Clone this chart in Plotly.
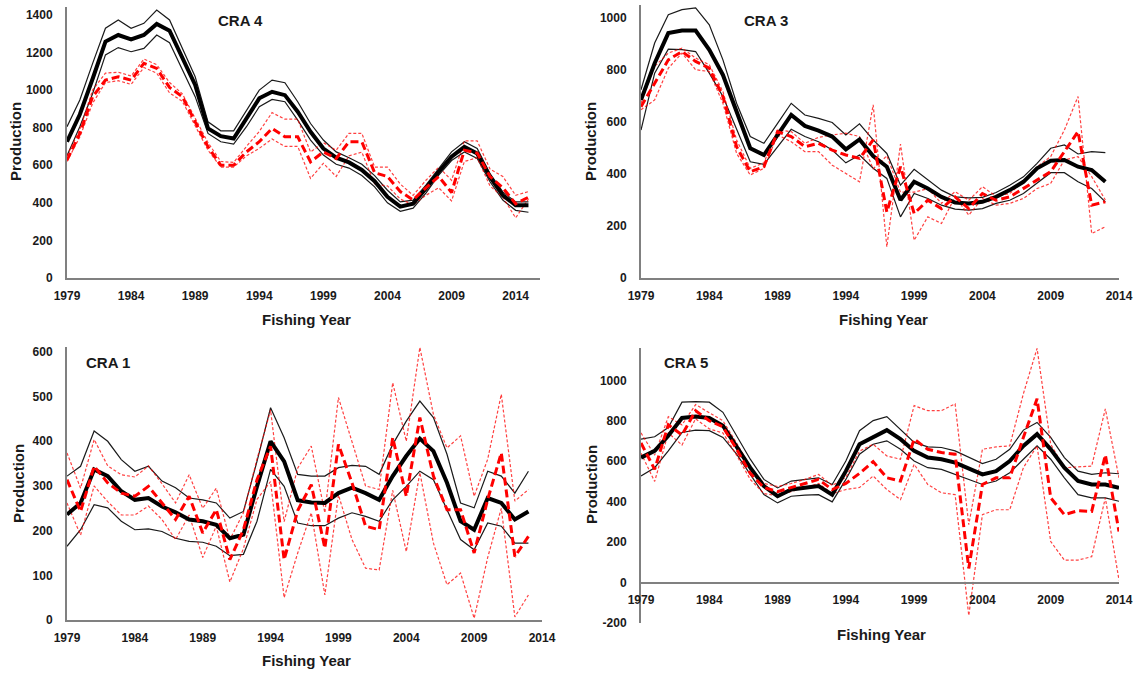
import plotly.graph_objects as go

# ---------------- DATA ----------------
years_cra4 = list(range(1979, 2016))
years_cra3 = list(range(1979, 2014))
years_cra1 = list(range(1979, 2014))
years_cra5 = list(range(1979, 2015))

x_tick_years = [1979, 1984, 1989, 1994, 1999, 2004, 2009, 2014]

# CRA 4
cra4_black_med = [725, 870, 1060, 1258, 1293, 1270, 1293, 1352, 1316, 1169, 1027, 796, 755, 742, 849, 956, 991, 973, 885, 778,
                  689, 640, 615, 575, 515, 432, 380, 396, 476, 565, 645, 698, 662, 538, 440, 387, 387]
cra4_black_hi = [805, 947, 1142, 1329, 1373, 1329, 1355, 1426, 1373, 1222, 1071, 831, 783, 783, 893, 1000, 1053, 1039, 938, 822,
                 734, 671, 640, 605, 545, 467, 405, 414, 494, 583, 671, 725, 689, 556, 458, 405, 405]
cra4_black_lo = [650, 805, 982, 1187, 1226, 1204, 1222, 1293, 1252, 1107, 965, 769, 725, 712, 805, 911, 950, 938, 840, 734,
                 654, 605, 585, 545, 485, 400, 355, 372, 452, 547, 625, 671, 636, 512, 414, 360, 350]
cra4_red_med = [627, 769, 965, 1053, 1071, 1053, 1142, 1115, 1014, 965, 831, 698, 600, 600, 671, 725, 796, 751, 751, 618,
                671, 636, 725, 725, 560, 540, 460, 415, 480, 540, 455, 680, 665, 540, 480, 395, 430]
cra4_red_a = [650, 790, 1000, 1090, 1095, 1075, 1165, 1135, 1040, 980, 850, 720, 620, 615, 700, 780, 880, 845, 845, 670,
              720, 680, 770, 770, 590, 590, 500, 440, 520, 590, 520, 730, 730, 580, 540, 440, 460]
cra4_red_b = [620, 750, 930, 1040, 1050, 1030, 1120, 1090, 985, 940, 810, 680, 590, 590, 650, 690, 740, 700, 700, 530,
              610, 540, 650, 670, 500, 490, 420, 390, 440, 480, 410, 620, 640, 490, 430, 320, 420]

# CRA 3
cra3_black_med = [685, 826, 942, 952, 952, 878, 781, 640, 499, 473, 550, 627, 585, 567, 544, 495, 533, 469, 428, 300,
                  370, 344, 312, 290, 287, 293, 312, 338, 370, 422, 451, 454, 428, 415, 370]
cra3_black_hi = [724, 904, 1013, 1032, 1039, 974, 839, 672, 544, 518, 595, 672, 627, 614, 598, 550, 593, 531, 479, 357,
                 418, 377, 338, 312, 308, 310, 329, 357, 389, 441, 499, 512, 477, 486, 482]
cra3_black_lo = [569, 788, 880, 878, 871, 788, 698, 569, 447, 437, 505, 572, 544, 524, 492, 443, 473, 422, 383, 235,
                 325, 306, 280, 265, 261, 267, 287, 299, 325, 364, 405, 405, 370, 344, 293]
cra3_red_med = [659, 749, 839, 871, 833, 807, 698, 505, 409, 428, 563, 544, 505, 518, 492, 473, 460, 531, 254, 428,
                248, 299, 267, 312, 267, 325, 299, 312, 344, 377, 409, 486, 563, 280, 293]
cra3_red_a = [672, 814, 865, 884, 846, 820, 717, 531, 422, 443, 569, 563, 518, 541, 550, 557, 544, 420, 470, 330,
              330, 344, 287, 332, 299, 351, 315, 325, 370, 428, 467, 569, 698, 171, 197]
cra3_red_b = [647, 685, 807, 865, 801, 794, 672, 479, 396, 422, 550, 524, 486, 486, 434, 402, 370, 666, 120, 515,
              145, 235, 210, 312, 242, 306, 280, 287, 306, 344, 364, 454, 467, 390, 300]

# CRA 1
cra1_black_med = [236, 262, 337, 322, 288, 269, 273, 254, 241, 225, 221, 213, 183, 191, 299, 400, 355, 268, 263, 262,
                  284, 296, 284, 269, 322, 367, 406, 378, 307, 221, 202, 273, 262, 225, 243]
cra1_black_hi = [322, 344, 423, 400, 359, 333, 344, 311, 296, 273, 269, 262, 228, 243, 355, 475, 408, 326, 322, 322,
                 341, 346, 344, 326, 393, 445, 490, 453, 371, 262, 251, 333, 322, 284, 333]
cra1_black_lo = [165, 202, 258, 251, 221, 202, 204, 198, 183, 176, 174, 165, 144, 147, 221, 337, 299, 217, 211, 211,
                 228, 240, 232, 221, 269, 299, 333, 314, 247, 180, 157, 217, 210, 172, 172]
cra1_red_med = [314, 243, 344, 307, 284, 277, 299, 262, 225, 277, 195, 247, 135, 202, 314, 389, 135, 245, 303, 161,
                393, 307, 210, 202, 408, 277, 453, 322, 247, 247, 150, 270, 374, 142, 187]
cra1_red_a = [374, 295, 404, 345, 325, 320, 345, 305, 262, 325, 250, 295, 180, 240, 360, 470, 220, 340, 389, 240,
              498, 400, 300, 292, 531, 400, 610, 460, 385, 412, 277, 360, 505, 266, 292]
cra1_red_b = [262, 190, 300, 265, 235, 235, 255, 225, 180, 235, 140, 210, 85, 160, 270, 310, 50, 150, 240, 56,
              280, 180, 116, 112, 290, 153, 330, 172, 79, 105, 4, 140, 250, 7, 56]

# CRA 5
cra5_black_med = [618, 651, 726, 814, 821, 814, 776, 676, 568, 477, 427, 460, 468, 477, 435, 551, 684, 721, 754, 709,
                  651, 618, 610, 593, 565, 535, 551, 601, 676, 734, 659, 568, 502, 485, 485, 468]
cra5_black_hi = [709, 721, 767, 892, 895, 892, 842, 726, 610, 510, 468, 502, 510, 518, 485, 601, 751, 801, 821, 759,
                 693, 671, 668, 651, 621, 588, 610, 659, 754, 792, 718, 618, 551, 535, 543, 538]
cra5_black_lo = [527, 568, 651, 742, 754, 751, 718, 635, 535, 435, 394, 427, 432, 435, 399, 510, 635, 684, 701, 659,
                 601, 568, 560, 535, 510, 485, 502, 543, 610, 676, 610, 518, 435, 419, 419, 402]
cra5_red_med = [690, 560, 780, 730, 850, 800, 770, 660, 540, 470, 450, 470, 490, 510, 460, 490, 540, 598, 518, 502,
                709, 659, 643, 635, 70, 485, 518, 518, 718, 909, 419, 336, 355, 352, 631, 252]
cra5_red_a = [740, 630, 820, 780, 880, 840, 800, 690, 570, 490, 475, 490, 510, 535, 480, 520, 650, 684, 626, 610,
              875, 850, 850, 884, 286, 659, 671, 676, 934, 1158, 684, 568, 571, 576, 859, 518]
cra5_red_b = [640, 500, 740, 680, 810, 760, 740, 630, 510, 440, 430, 450, 470, 490, 440, 460, 470, 527, 460, 410,
              585, 485, 444, 435, -163, 336, 360, 360, 568, 676, 203, 111, 111, 128, 419, 12]

panel_titles = ["CRA 4", "CRA 3", "CRA 1", "CRA 5"]

# ---------------- FIGURE ----------------
W, H = 1142, 675
fig = go.Figure()

panels = [
    (years_cra4, cra4_black_med, cra4_black_hi, cra4_black_lo, cra4_red_med, cra4_red_a, cra4_red_b),
    (years_cra3, cra3_black_med, cra3_black_hi, cra3_black_lo, cra3_red_med, cra3_red_a, cra3_red_b),
    (years_cra1, cra1_black_med, cra1_black_hi, cra1_black_lo, cra1_red_med, cra1_red_a, cra1_red_b),
    (years_cra5, cra5_black_med, cra5_black_hi, cra5_black_lo, cra5_red_med, cra5_red_a, cra5_red_b),
]

RED = "#ff0000"
for i, (yrs, bm, bh, bl, rm, ra, rb) in enumerate(panels):
    xa = "x" if i == 0 else f"x{i+1}"
    ya = "y" if i == 0 else f"y{i+1}"
    for vals in (bh, bl):
        fig.add_trace(go.Scatter(x=yrs, y=vals, mode="lines", xaxis=xa, yaxis=ya,
                                 line=dict(color="#1a1a1a", width=1.2), showlegend=False, hoverinfo="skip"))
    for vals in (ra, rb):
        fig.add_trace(go.Scatter(x=yrs, y=vals, mode="lines", xaxis=xa, yaxis=ya,
                                 line=dict(color="rgba(255,0,0,0.75)", width=1.2, dash="3px,2px"),
                                 showlegend=False, hoverinfo="skip"))
    fig.add_trace(go.Scatter(x=yrs, y=bm, mode="lines", xaxis=xa, yaxis=ya,
                             line=dict(color="#000000", width=4), showlegend=False, hoverinfo="skip"))
    fig.add_trace(go.Scatter(x=yrs, y=rm, mode="lines", xaxis=xa, yaxis=ya,
                             line=dict(color=RED, width=3, dash="8px,4px"), showlegend=False, hoverinfo="skip"))


def px_x(p):
    return p / W


def px_y(p):
    return 1 - p / H


tickfont = dict(family="Liberation Sans, Arial, sans-serif", size=12, color="#1a1a1a", weight="bold")
axis_common = dict(showgrid=False, zeroline=False, showline=True, linecolor="#808080", linewidth=2,
                   ticks="", tickfont=tickfont, automargin=False)

# panel geometry (pixels)
geo = [
    dict(x0=67, x1=540, y_bot=278, y_top=7, xr=[1979, 2015.9], yr=[0, 1442], yt=list(range(0, 1401, 200))),
    dict(x0=641, x1=1119, y_bot=278, y_top=5, xr=[1979, 2014], yr=[0, 1050], yt=list(range(0, 1001, 200))),
    dict(x0=67, x1=542, y_bot=620, y_top=347, xr=[1979, 2014], yr=[0, 611], yt=list(range(0, 601, 100))),
    dict(x0=641, x1=1119, y_bot=623, y_top=348, xr=[1979, 2014], yr=[-200, 1160], yt=list(range(-200, 1001, 200))),
]

layout = {}
for i, g in enumerate(geo):
    xk = "xaxis" if i == 0 else f"xaxis{i+1}"
    yk = "yaxis" if i == 0 else f"yaxis{i+1}"
    xname = "x" if i == 0 else f"x{i+1}"
    yname = "y" if i == 0 else f"y{i+1}"
    ydom = [px_y(g["y_bot"]), px_y(g["y_top"])]
    xdict = dict(axis_common, domain=[px_x(g["x0"]), px_x(g["x1"])], range=g["xr"],
                 tickvals=x_tick_years, ticktext=[str(v) for v in x_tick_years], ticklabelstandoff=6)
    if i == 3:
        frac0 = (0 - g["yr"][0]) / (g["yr"][1] - g["yr"][0])
        xdict.update(anchor="free", position=ydom[0] + frac0 * (ydom[1] - ydom[0]))
    else:
        xdict.update(anchor=yname)
    layout[xk] = xdict
    layout[yk] = dict(axis_common, domain=ydom, range=g["yr"], anchor=xname,
                      tickvals=g["yt"], ticktext=[str(v) for v in g["yt"]], ticklabelstandoff=10)

fig.update_layout(**layout)

title_font = dict(family="Liberation Sans, Arial, sans-serif", size=15, color="#1a1a1a", weight="bold")
annotations = []
# panel titles
for txt, (cx, cy) in zip(panel_titles, [(240, 20), (766, 20), (108, 362), (686, 362)]):
    annotations.append(dict(text=txt, x=px_x(cx), y=px_y(cy), xref="paper", yref="paper",
                            showarrow=False, xanchor="center", yanchor="middle", font=title_font))
# axis titles
for (cx, cy) in [(306, 319), (883, 319), (306, 660), (881, 634)]:
    annotations.append(dict(text="Fishing Year", x=px_x(cx), y=px_y(cy), xref="paper", yref="paper",
                            showarrow=False, xanchor="center", yanchor="middle", font=title_font))
for (cx, cy) in [(16, 142), (591, 142), (18, 484), (591, 485)]:
    annotations.append(dict(text="Production", x=px_x(cx), y=px_y(cy), xref="paper", yref="paper",
                            showarrow=False, xanchor="center", yanchor="middle", textangle=-90, font=title_font))

fig.update_layout(width=W, height=H, margin=dict(l=0, r=0, t=0, b=0, autoexpand=False),
                  paper_bgcolor="white", plot_bgcolor="white", annotations=annotations,
                  font=dict(family="Liberation Sans, Arial, sans-serif"))

fig.write_html("out.html")
